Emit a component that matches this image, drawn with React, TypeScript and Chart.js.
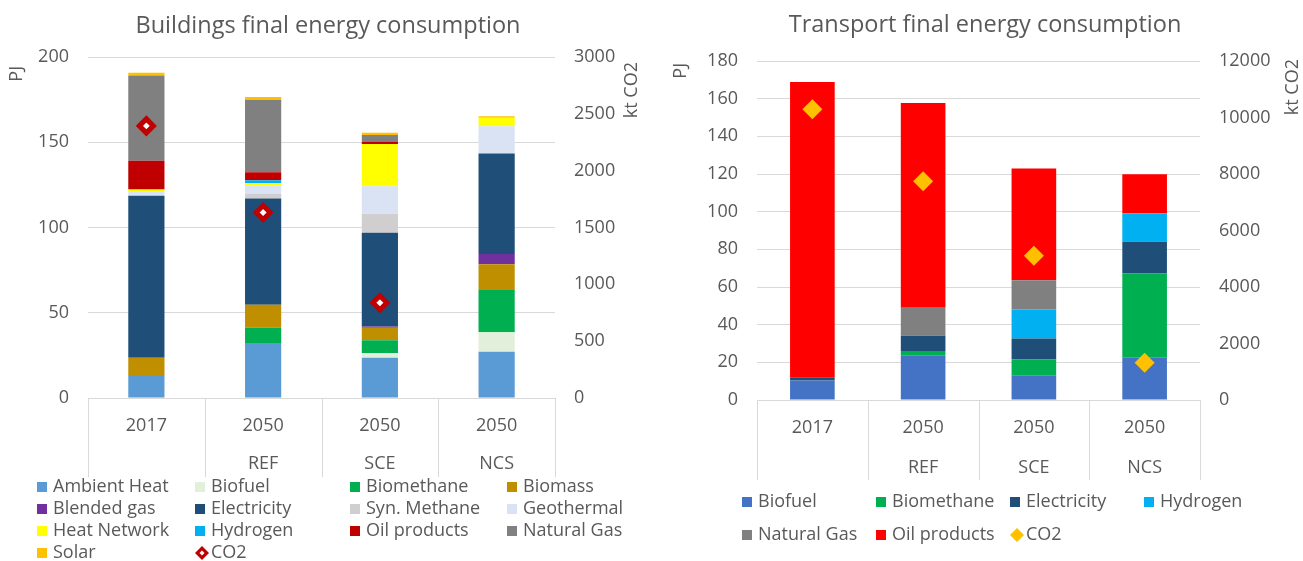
import React, { useEffect, useRef } from "react";
import { Chart, registerables } from "chart.js";
Chart.register(...registerables);

const FONT = "'Open Sans', sans-serif";
const TEXT = "#595959";
const GRID = "#d9d9d9";
const FS = 18;

// ---------- Buildings data (PJ, CO2 in kt) ----------
const bCategories = [["2017", ""], ["2050", "REF"], ["2050", "SCE"], ["2050", "NCS"]];
const bAmbientHeat = [13.5, 32.2, 23.6, 27.1];
const bBiofuel = [0, 0, 2.8, 11.4];
const bBiomethane = [0, 9.2, 7.4, 24.8];
const bBiomass = [10.1, 13.3, 7.4, 15.2];
const bBlendedGas = [0, 0, 0.8, 5.9];
const bElectricity = [95, 62.3, 54.9, 59];
const bSynMethane = [0, 2.7, 11.1, 0];
const bGeothermal = [2.2, 5.1, 16.2, 16];
const bHeatNetwork = [1.5, 1.2, 24.8, 4.9];
const bHydrogen = [0, 1.7, 0, 0];
const bOilProducts = [16.8, 4.7, 1.2, 0];
const bNaturalGas = [50, 42.6, 4.1, 0];
const bSolar = [1.7, 1.6, 1.2, 1];
const bCO2 = [2394, 1632, 838, null];
const bPJAxis = { min: 0, max: 200, step: 50 };
const bCO2Axis = { min: 0, max: 3000, step: 500 };

// ---------- Transport data ----------
const tCategories = [["2017", ""], ["2050", "REF"], ["2050", "SCE"], ["2050", "NCS"]];
const tBiofuel = [10.3, 23.5, 13.1, 22.5];
const tBiomethane = [0, 2.5, 8.6, 44.7];
const tElectricity = [1.8, 8.1, 11, 16.8];
const tHydrogen = [0, 0, 15.4, 15.2];
const tNaturalGas = [0, 14.9, 15.5, 0];
const tOilProducts = [156.7, 108.7, 59.3, 20.7];
const tCO2 = [10290, 7745, 5104, 1320];
const tPJAxis = { min: 0, max: 180, step: 20 };
const tCO2Axis = { min: 0, max: 12000, step: 2000 };

const decor = {
  id: "decor",
  afterDraw(chart: any, _args: any, o: any) {
    const ctx = chart.ctx;
    ctx.save();
    ctx.fillStyle = TEXT;
    // title
    ctx.font = `${o.titleSize}px ${FONT}`;
    ctx.textAlign = "center";
    ctx.textBaseline = "middle";
    ctx.fillText(o.title, o.titleX, o.titleY);
    // axis titles (rotated, top-aligned)
    ctx.font = `${FS}px ${FONT}`;
    for (const t of o.axisTitles) {
      ctx.save();
      ctx.translate(t.x, t.y);
      ctx.rotate(-Math.PI / 2);
      ctx.textAlign = "right";
      ctx.textBaseline = "middle";
      ctx.fillText(t.text, 0, 0);
      ctx.restore();
    }
    // category dividers below the axis
    const xs = chart.scales.x;
    const n = chart.data.labels.length;
    const step = xs.getPixelForValue(1) - xs.getPixelForValue(0);
    const bottom = chart.chartArea.bottom;
    ctx.strokeStyle = GRID;
    ctx.lineWidth = 1;
    for (let i = 0; i <= n; i++) {
      const x = Math.round(xs.getPixelForValue(0) - step / 2 + i * step) + 0.5;
      ctx.beginPath();
      ctx.moveTo(x, bottom);
      ctx.lineTo(x, bottom + o.dividerLen);
      ctx.stroke();
    }
    // legend grid
    ctx.font = `${FS}px ${FONT}`;
    ctx.textAlign = "left";
    ctx.textBaseline = "middle";
    chart.data.datasets.forEach((ds: any, i: number) => {
      const col = i % o.cols.length;
      const row = Math.floor(i / o.cols.length);
      const mx = o.cols[col];
      const my = o.rows[row];
      if (ds.type === "line") {
        const r = 7;
        ctx.beginPath();
        ctx.moveTo(mx + r, my - r);
        ctx.lineTo(mx + 2 * r, my);
        ctx.lineTo(mx + r, my + r);
        ctx.lineTo(mx, my);
        ctx.closePath();
        ctx.fillStyle = ds.borderColor;
        ctx.fill();
        if (ds.pointBackgroundColor !== ds.borderColor) {
          ctx.beginPath();
          const s = 2.5;
          ctx.moveTo(mx + r, my - s);
          ctx.lineTo(mx + r + s, my);
          ctx.lineTo(mx + r, my + s);
          ctx.lineTo(mx + r - s, my);
          ctx.closePath();
          ctx.fillStyle = "#ffffff";
          ctx.fill();
        }
        ctx.fillStyle = TEXT;
        ctx.fillText(ds.label, mx + 16, my);
      } else {
        ctx.fillStyle = ds.backgroundColor;
        ctx.fillRect(mx, my - 5, 10, 10);
        ctx.fillStyle = TEXT;
        ctx.fillText(ds.label, mx + o.textOff, my);
      }
    });
    ctx.restore();
  },
};

function bar(label: string, data: number[], color: string) {
  return { type: "bar", label, data, backgroundColor: color, yAxisID: "y", order: 1, borderWidth: 0 };
}

const plain = (v: any) => String(v);

function makeOptions(cfg: any) {
  return {
    responsive: false,
    animation: false,
    layout: { padding: { top: cfg.top, bottom: 0, left: 0, right: 0 } },
    plugins: {
      legend: { display: false },
      title: { display: false },
      tooltip: { enabled: false },
      decor: cfg.decor,
    },
    datasets: { bar: { categoryPercentage: 1, barPercentage: cfg.barPct } },
    scales: {
      x: {
        stacked: true,
        grid: { display: false },
        border: { display: false },
        ticks: {
          color: TEXT,
          font: { family: FONT, size: FS, lineHeight: cfg.labelLH },
          padding: cfg.labelPad,
          maxRotation: 0,
          autoSkip: false,
        },
        afterFit: (s: any) => { s.height = cfg.xH; },
      },
      y: {
        stacked: true,
        position: "left",
        min: cfg.pj.min,
        max: cfg.pj.max,
        ticks: { stepSize: cfg.pj.step, color: TEXT, font: { family: FONT, size: FS }, padding: 19, callback: plain },
        grid: { color: GRID, drawTicks: false },
        border: { display: false },
        afterFit: (s: any) => { s.width = cfg.yW; },
      },
      y1: {
        position: "right",
        min: cfg.co2.min,
        max: cfg.co2.max,
        ticks: { stepSize: cfg.co2.step, color: TEXT, font: { family: FONT, size: FS }, padding: 19, callback: plain },
        grid: { display: false, drawTicks: false },
        border: { display: false },
        afterFit: (s: any) => { s.width = cfg.y1W; },
      },
    },
  };
}

function ChartCanvas({ config, width, height, left }: any) {
  const ref = useRef<HTMLCanvasElement>(null);
  useEffect(() => {
    const chart = new Chart(ref.current as HTMLCanvasElement, config);
    return () => chart.destroy();
  }, []);
  return (
    <canvas
      ref={ref}
      width={width}
      height={height}
      style={{ position: "absolute", left, top: 0, width, height }}
    />
  );
}

export default function App() {
  const buildings: any = {
    type: "bar",
    plugins: [decor],
    data: {
      labels: bCategories,
      datasets: [
        bar("Ambient Heat", bAmbientHeat, "#5B9BD5"),
        bar("Biofuel", bBiofuel, "#E2EFDA"),
        bar("Biomethane", bBiomethane, "#00B050"),
        bar("Biomass", bBiomass, "#BF8F00"),
        bar("Blended gas", bBlendedGas, "#7030A0"),
        bar("Electricity", bElectricity, "#1F4E79"),
        bar("Syn. Methane", bSynMethane, "#D0CECE"),
        bar("Geothermal", bGeothermal, "#DAE3F3"),
        bar("Heat Network", bHeatNetwork, "#FFFF00"),
        bar("Hydrogen", bHydrogen, "#00B0F0"),
        bar("Oil products", bOilProducts, "#C00000"),
        bar("Natural Gas", bNaturalGas, "#808080"),
        bar("Solar", bSolar, "#FFC000"),
        {
          type: "line",
          label: "CO2",
          data: bCO2,
          yAxisID: "y1",
          showLine: false,
          order: 0,
          borderColor: "#C00000",
          pointStyle: "rectRot",
          pointRadius: 7,
          pointBorderWidth: 5,
          pointBorderColor: "#C00000",
          pointBackgroundColor: "#ffffff",
        },
      ],
    },
    options: makeOptions({
      top: 57,
      xH: 561 - 398,
      yW: 88,
      y1W: 655 - 555,
      barPct: 0.31,
      labelLH: "38px",
      labelPad: 1,
      pj: bPJAxis,
      co2: bCO2Axis,
      decor: {
        title: "Buildings final energy consumption",
        titleSize: 23.5,
        titleX: 328,
        titleY: 26,
        axisTitles: [
          { text: "PJ", x: 17, y: 66 },
          { text: "kt CO2", x: 632, y: 62 },
        ],
        dividerLen: 79,
        cols: [37, 195, 350, 507],
        rows: [487, 509, 531, 553],
        textOff: 16,
      },
    }),
  };

  const transport: any = {
    type: "bar",
    plugins: [decor],
    data: {
      labels: tCategories,
      datasets: [
        bar("Biofuel", tBiofuel, "#4472C4"),
        bar("Biomethane", tBiomethane, "#00B050"),
        bar("Electricity", tElectricity, "#1F4E79"),
        bar("Hydrogen", tHydrogen, "#00B0F0"),
        bar("Natural Gas", tNaturalGas, "#808080"),
        bar("Oil products", tOilProducts, "#FF0000"),
        {
          type: "line",
          label: "CO2",
          data: tCO2,
          yAxisID: "y1",
          showLine: false,
          order: 0,
          borderColor: "#FFC000",
          pointStyle: "rectRot",
          pointRadius: 10,
          pointBorderWidth: 0,
          pointBorderColor: "#FFC000",
          pointBackgroundColor: "#FFC000",
        },
      ],
    },
    options: makeOptions({
      top: 61,
      xH: 561 - 400,
      yW: 757 - 655,
      y1W: 648 - (1200 - 655),
      barPct: 0.403,
      labelLH: "40px",
      labelPad: 0,
      pj: tPJAxis,
      co2: tCO2Axis,
      decor: {
        title: "Transport final energy consumption",
        titleSize: 23.5,
        titleX: 330,
        titleY: 25,
        axisTitles: [
          { text: "PJ", x: 26, y: 63 },
          { text: "kt CO2", x: 638, y: 59 },
        ],
        dividerLen: 80,
        cols: [742, 876, 1010, 1144].map((v) => v - 655),
        rows: [502, 535],
        textOff: 16,
      },
    }),
  };

  return (
    <div style={{ position: "absolute", left: 0, top: 0, width: 1303, height: 561, background: "#fff" }}>
      <ChartCanvas config={buildings} width={655} height={561} left={0} />
      <ChartCanvas config={transport} width={648} height={561} left={655} />
    </div>
  );
}
